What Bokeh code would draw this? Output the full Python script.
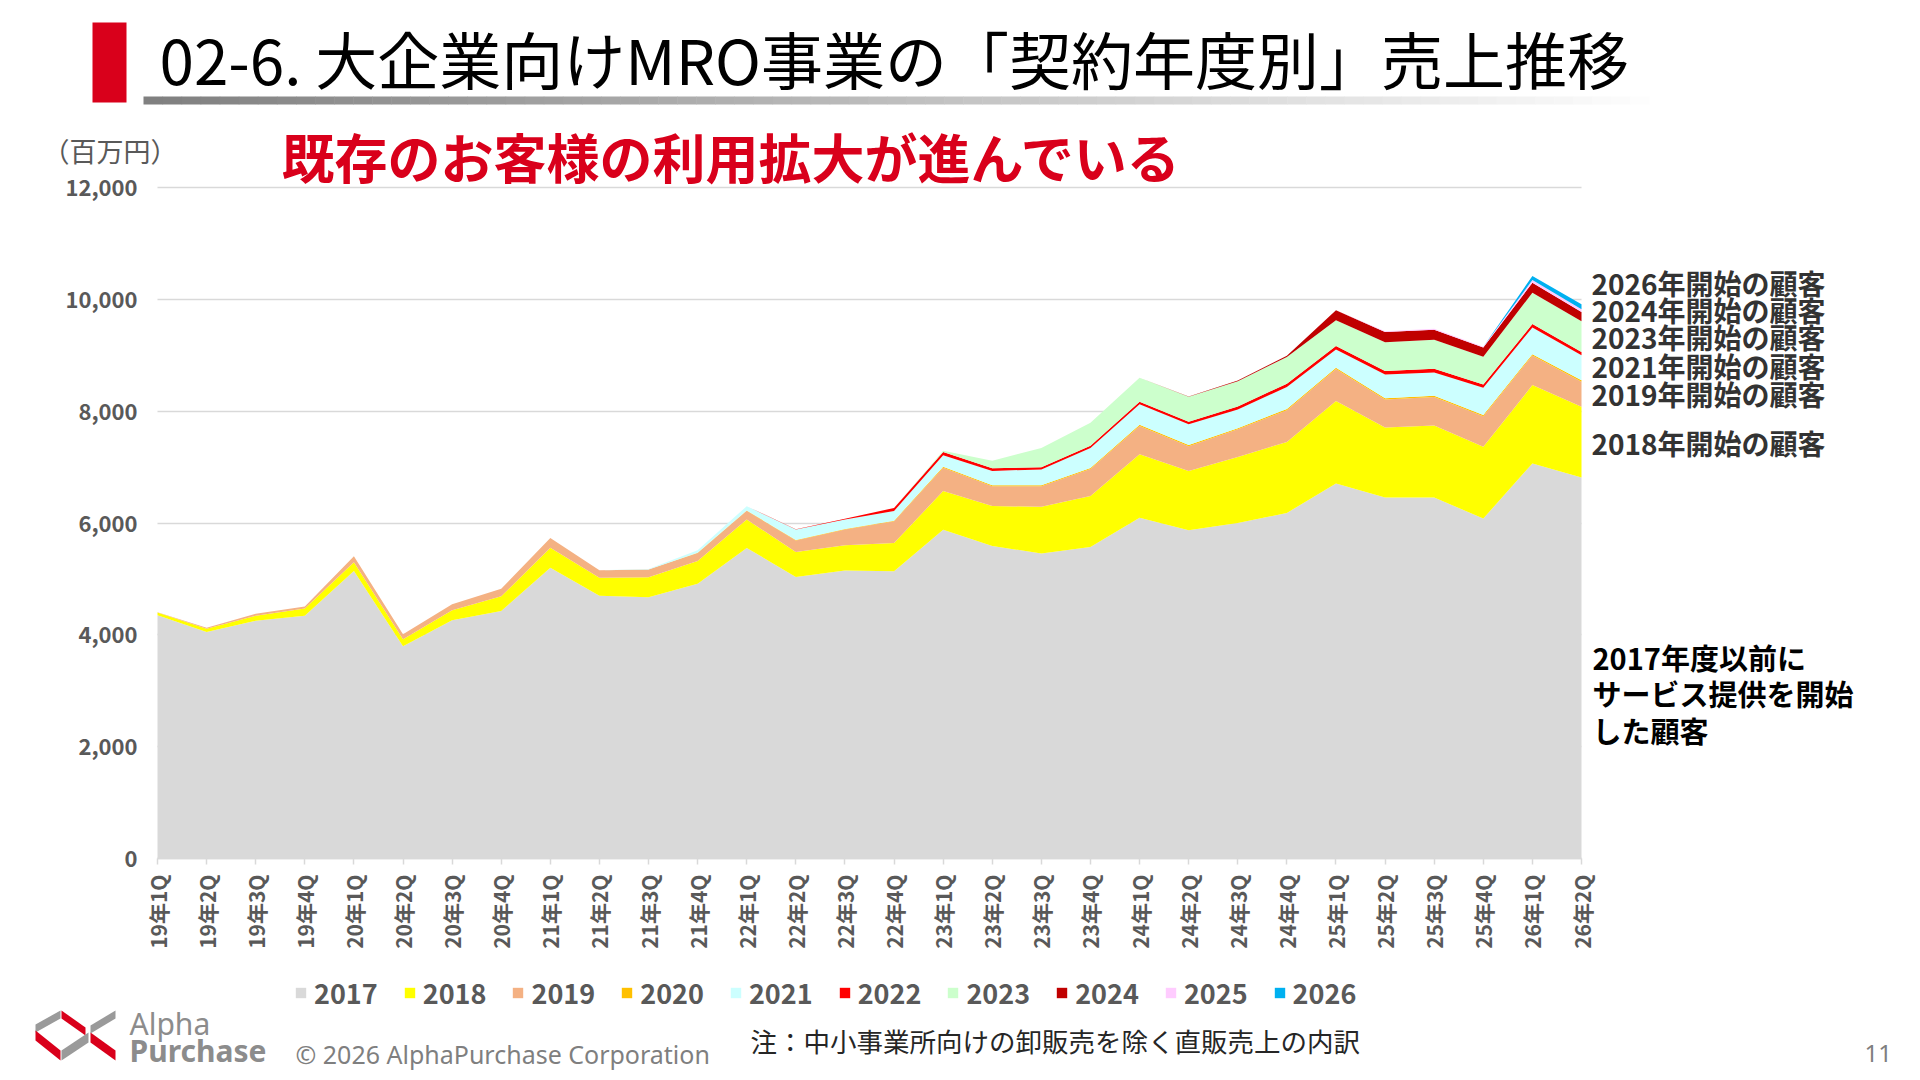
import math
from bokeh.plotting import figure
from bokeh.models import (Label, BoxAnnotation, PolyAnnotation, Legend, LegendItem,
                          FixedTicker, ColumnDataSource, Range1d, NumeralTickFormatter)
from bokeh.embed import file_html
from bokeh.resources import INLINE

# ---------------- data ----------------
quarters = ["19年1Q", "19年2Q", "19年3Q", "19年4Q",
            "20年1Q", "20年2Q", "20年3Q", "20年4Q",
            "21年1Q", "21年2Q", "21年3Q", "21年4Q",
            "22年1Q", "22年2Q", "22年3Q", "22年4Q",
            "23年1Q", "23年2Q", "23年3Q", "23年4Q",
            "24年1Q", "24年2Q", "24年3Q", "24年4Q",
            "25年1Q", "25年2Q", "25年3Q", "25年4Q",
            "26年1Q", "26年2Q"]

series_names = ["2017", "2018", "2019", "2020", "2021", "2022", "2023", "2024", "2025", "2026"]

s2017 = [4350, 4050, 4250, 4340, 5140, 3795, 4260, 4425, 5200, 4700,
         4670, 4915, 5555, 5035, 5150, 5135, 5880, 5590, 5455, 5570,
         6095, 5870, 6000, 6180, 6705, 6455, 6455, 6080, 7065, 6815]
s2018 = [48, 60, 90, 130, 160, 125, 180, 263, 358, 322,
         358, 406, 507, 447, 453, 507, 691, 716, 834, 913,
         1133, 1061, 1181, 1270, 1479, 1252, 1288, 1282, 1401, 1264]
s2019 = [5, 18, 35, 36, 107, 90, 107, 137, 172, 131,
         140, 143, 155, 204, 281, 388, 419, 352, 370, 483,
         507, 442, 495, 567, 572, 501, 512, 549, 531, 447]
s2020 = [0, 0, 0, 0, 0, 0, 0, 0, 0, 0,
         0, 5, 8, 8, 10, 12, 15, 15, 15, 18,
         20, 20, 20, 22, 22, 22, 22, 22, 22, 25]
s2021 = [0, 0, 0, 0, 0, 0, 0, 0, 0, 0,
         10, 43, 76, 189, 169, 172, 208, 259, 284, 358,
         368, 374, 333, 395, 325, 426, 415, 484, 479, 447]
s2022 = [0, 0, 0, 0, 0, 0, 0, 0, 0, 0,
         0, 0, 0, 5, 15, 55, 55, 45, 40, 40,
         45, 45, 55, 58, 62, 62, 68, 60, 60, 62]
s2023 = [0, 0, 0, 0, 0, 0, 0, 0, 0, 0,
         0, 0, 0, 0, 0, 0, 24, 137, 345, 411,
         429, 447, 453, 476, 460, 513, 518, 494, 560, 549]
s2024 = [0, 0, 0, 0, 0, 0, 0, 0, 0, 0,
         0, 0, 0, 0, 0, 0, 0, 0, 0, 0,
         0, 5, 10, 25, 179, 185, 179, 168, 179, 166]
s2025 = [0, 0, 0, 0, 0, 0, 0, 0, 0, 0,
         0, 0, 0, 0, 0, 0, 0, 0, 0, 0,
         0, 0, 0, 0, 0, 15, 15, 15, 49, 49]
s2026 = [0, 0, 0, 0, 0, 0, 0, 0, 0, 0,
         0, 0, 0, 0, 0, 0, 0, 0, 0, 0,
         0, 0, 0, 0, 0, 0, 0, 0, 71, 89]

y_ticks = [0, 2000, 4000, 6000, 8000, 10000, 12000]

series_colors = ["#d9d9d9", "#ffff00", "#f4b183", "#ffc000", "#ccffff",
                 "#ff0000", "#ccffcc", "#c00000", "#ffccff", "#00b0f0"]

title_text = "02-6. 大企業向けMRO事業の「契約年度別」売上推移"
subtitle_text = "既存のお客様の利用拡大が進んでいる"
unit_text = "（百万円）"
right_labels = ["2026年開始の顧客", "2024年開始の顧客", "2023年開始の顧客",
                "2021年開始の顧客", "2019年開始の顧客", "2018年開始の顧客"]
base_label = ["2017年度以前に", "サービス提供を開始", "した顧客"]
note_text = "注：中小事業所向けの卸販売を除く直販売上の内訳"
copy_text = "© 2026 AlphaPurchase Corporation"
page_no = "11"

CJK = "Noto Sans CJK JP"
RED = "#d9001b"

# ---------------- geometry: whole page is the plot frame ----------------
PW, PH = 1920, 1080
FL, FR, FT, FB = 157, 1581, 187, 858        # chart area in page pixels
NQ = len(quarters) - 1
YMAX = y_ticks[-1]
PXX = (FR - FL) / NQ
PXY = (FB - FT) / YMAX


def X(px):
    return (px - FL) / PXX


def Y(py):
    return (FB - py) / PXY


p = figure(width=PW, height=PH, output_backend="svg", toolbar_location=None,
           x_range=Range1d(X(0), X(PW)), y_range=Range1d(Y(PH), Y(0)),
           min_border=0)
p.outline_line_color = None
p.background_fill_color = "white"
p.border_fill_color = "white"

src = ColumnDataSource(dict(x=list(range(len(quarters))),
                            s2017=s2017, s2018=s2018, s2019=s2019, s2020=s2020,
                            s2021=s2021, s2022=s2022, s2023=s2023, s2024=s2024,
                            s2025=s2025, s2026=s2026))
stackers = ["s" + n for n in series_names]
rends = p.varea_stack(stackers=stackers, x="x", color=series_colors, source=src)

# y axis (placed at x = 0)
p.yaxis.fixed_location = 0
p.yaxis.bounds = (0, YMAX)
p.yaxis.ticker = FixedTicker(ticks=y_ticks)
p.yaxis.formatter = NumeralTickFormatter(format="0,0")
p.yaxis.axis_line_color = None
p.yaxis.major_tick_line_color = None
p.yaxis.major_tick_out = 0
p.yaxis.major_tick_in = 0
p.yaxis.minor_tick_line_color = None
p.yaxis.major_label_text_font = CJK
p.yaxis.major_label_text_font_size = "22px"
p.yaxis.major_label_text_font_style = "bold"
p.yaxis.major_label_text_color = "#595959"
p.yaxis.major_label_standoff = 20

# x axis (placed at y = 0)
p.xaxis.fixed_location = 0
p.xaxis.bounds = (0, NQ)
p.xaxis.ticker = FixedTicker(ticks=list(range(len(quarters))))
p.xaxis.major_label_overrides = {i: q for i, q in enumerate(quarters)}
p.xaxis.major_label_orientation = math.pi / 2
p.xaxis.axis_line_color = "#d9d9d9"
p.xaxis.axis_line_width = 1.5
p.xaxis.major_tick_line_color = "#d9d9d9"
p.xaxis.major_tick_line_width = 1.5
p.xaxis.major_tick_in = 0
p.xaxis.major_tick_out = 6
p.xaxis.minor_tick_line_color = None
p.xaxis.major_label_text_font = CJK
p.xaxis.major_label_text_font_size = "21px"
p.xaxis.major_label_text_font_style = "bold"
p.xaxis.major_label_text_color = "#595959"
p.xaxis.major_label_standoff = 10

p.xgrid.visible = False
p.ygrid.ticker = FixedTicker(ticks=y_ticks)
p.ygrid.bounds = (0, YMAX)
p.ygrid.grid_line_color = "#d9d9d9"
p.ygrid.grid_line_width = 1.5
try:
    p.ygrid.cross_bounds = (0, NQ)
except Exception:
    p.ygrid.visible = False
    p.segment(x0=[0] * len(y_ticks), x1=[NQ] * len(y_ticks), y0=y_ticks, y1=y_ticks,
              line_color="#d9d9d9", line_width=1.5, level="underlay")

# legend
legend = Legend(items=[LegendItem(label=n, renderers=[r]) for n, r in zip(series_names, rends)],
                orientation="horizontal", location=(294, 68),
                glyph_width=13, glyph_height=13, label_standoff=7, spacing=25,
                padding=0, margin=0, border_line_color=None, background_fill_alpha=0,
                label_text_font=CJK, label_text_font_size="27px",
                label_text_font_style="bold", label_text_color="#595959")
p.add_layout(legend)


def lab(text, px, py, size, color, style="normal", font=CJK, align="left"):
    p.add_layout(Label(x=X(px), y=Y(py), text=text, text_font=font,
                       text_font_size=f"{size}px", text_font_style=style,
                       text_color=color, text_align=align, text_baseline="middle"))


def box(x0, x1, y0, y1, color):
    p.add_layout(BoxAnnotation(left=X(x0), right=X(x1), top=Y(y0), bottom=Y(y1),
                               fill_color=color, fill_alpha=1, line_color=None))


def band(a, b, t, color):
    pts = [a, b, (b[0], b[1] + t), (a[0], a[1] + t)]
    p.add_layout(PolyAnnotation(xs=[X(u) for u, v in pts], ys=[Y(v) for u, v in pts],
                                fill_color=color, fill_alpha=1, line_color=None))


# header
box(92, 126, 22, 102, RED)
n_seg = 80
gx0, gx1 = 143, 1668
for k in range(n_seg):
    c = int(128 + 127 * k / (n_seg - 1))
    box(gx0 + (gx1 - gx0) * k / n_seg, gx0 + (gx1 - gx0) * (k + 1) / n_seg + 0.5,
        96, 104, f"#{c:02x}{c:02x}{c:02x}")
lab(title_text, 159, 57, 62, "#000000")
lab(subtitle_text, 281, 155, 53, RED, style="bold")
lab(unit_text, 42, 150, 27, "#595959")

# right-side labels
for t, py in zip(right_labels, [282, 309, 336, 365, 393, 442]):
    lab(t, 1591, py, 28, "#333333", style="bold")
for t, py in zip(base_label, [656, 692.5, 729]):
    lab(t, 1592, py, 29, "#000000", style="bold")

# footer
lab(note_text, 750, 1040, 26.5, "#262626")
lab(copy_text, 295, 1053, 25, "#7f7f7f", font="Noto Sans")
lab(page_no, 1864, 1053, 24, "#7f7f7f", font="Noto Sans")
lab("Alpha", 129, 1023, 30, "#8c8c8c", font="Noto Sans")
lab("Purchase", 129, 1050, 30, "#8c8c8c", style="bold", font="Noto Sans")

# logo mark
GRAY = "#9a9a9a"
band((35, 1024), (60, 1010), 8, GRAY)
band((35, 1030), (60, 1050), 10, RED)
band((61, 1010), (85, 1027), 8, RED)
band((61, 1050), (88, 1032), 10, GRAY)
band((90, 1025), (115, 1010), 8, GRAY)
band((90, 1032), (115, 1050), 10, RED)

open("out.html", "w").write(file_html(p, INLINE))
